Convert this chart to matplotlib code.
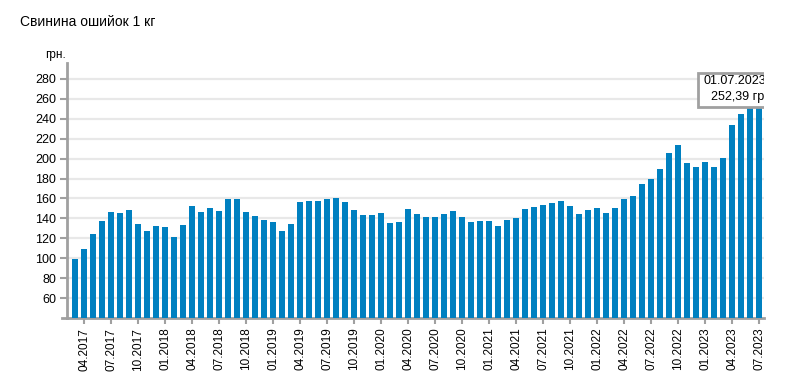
import matplotlib
matplotlib.use("Agg")
import matplotlib.pyplot as plt
from matplotlib.patches import Rectangle
from matplotlib.lines import Line2D

plt.rcParams['font.family'] = ['Liberation Sans', 'DejaVu Sans']

title = "Свинина ошийок 1 кг"
unit_label = "грн."

# monthly values, 03.2017 .. 07.2023
months = []
for y in range(2017, 2024):
    for m in range(1, 13):
        if (y == 2017 and m < 3) or (y == 2023 and m > 7):
            continue
        months.append(f"{m:02d}.{y}")

values = [99, 109, 124, 137, 146, 145, 148, 134, 127, 132,
          131, 121, 133, 152, 146, 150, 147, 159, 159, 146,
          142, 138, 136, 127, 134, 156, 157, 157, 159, 160,
          156, 148, 143, 143, 145, 135, 136, 149, 144, 141,
          141, 144, 147, 141, 136, 137, 137, 132, 138, 140,
          149, 151, 153, 155, 157, 152, 144, 148, 150, 145,
          150, 159, 162, 175, 180, 190, 206, 214, 196, 192,
          197, 192, 201, 234, 245, 251, 252.39]

yticks = list(range(60, 281, 20))
tooltip_date = "01.07.2023"
tooltip_value = "252,39 грн"

fig = plt.figure(figsize=(7.91, 3.78), dpi=100)
ax = fig.add_axes([67/791, 60/378, (764-67)/791, 255/378])

x = list(range(len(values)))
ax.bar(x, values, width=0.67, color='#0080c0', zorder=3)

ax.set_xlim(-0.9, 76.55)
ax.set_ylim(40, 296)

ax.set_yticks(yticks)
ax.set_yticklabels([str(t) for t in yticks], fontsize=9)
ax.yaxis.grid(True, color='#e8e8e8', linewidth=1.6, zorder=0)

tick_idx = [i for i, mth in enumerate(months) if mth[:2] in ('01', '04', '07', '10')]
ax.set_xticks(tick_idx)
ax.set_xticklabels([months[i] for i in tick_idx], rotation=90, fontsize=8.5)

for s in ['top', 'right']:
    ax.spines[s].set_visible(False)
ax.spines['left'].set_color('#a0a0a0')
ax.spines['left'].set_linewidth(2)
ax.spines['bottom'].set_color('#a0a0a0')
ax.spines['bottom'].set_linewidth(2)
ax.tick_params(axis='y', length=5, width=1.5, color='#a0a0a0', pad=3)
ax.tick_params(axis='x', length=4, width=1.5, color='#a0a0a0', pad=3)

# bottom axis extends slightly to the left
fig.add_artist(Line2D([62/791, 67/791], [60/378, 60/378], color='#a0a0a0', linewidth=2))

fig.text(20/791, 1 - 22/378, title, fontsize=10, ha='left', va='center')
fig.text(45/791, 1 - 55/378, unit_label, fontsize=8.5, ha='left', va='center')

# tooltip (clipped at axes right edge)
trans = ax.transData
rect = Rectangle((698/791, 1 - 107/378), 80/791, 34/378, transform=fig.transFigure,
                 facecolor='white', edgecolor='#a0a0a0', linewidth=2, zorder=5,
                 clip_on=True)
rect.set_clip_box(ax.bbox)
fig.add_artist(rect)
t1 = fig.text(703/791, 1 - 81/378, tooltip_date, fontsize=9, ha='left', va='center', zorder=6)
t2 = fig.text(711/791, 1 - 97/378, tooltip_value, fontsize=9, ha='left', va='center', zorder=6)
for t in (t1, t2):
    t.set_clip_on(True)
    t.set_clip_box(ax.bbox)

fig.savefig("out.png", dpi=100)
